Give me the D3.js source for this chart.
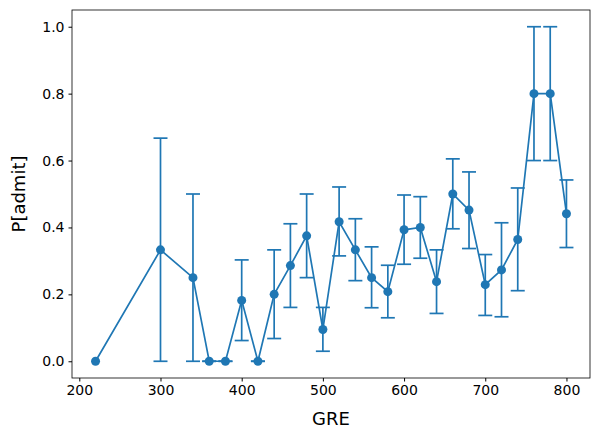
<!DOCTYPE html>
<html>
<head>
<meta charset="utf-8">
<script src="https://cdn.jsdelivr.net/npm/d3@7"></script>
<style>
  body { margin: 0; background: #fff; }
  text { font-family: "DejaVu Sans", sans-serif; }
</style>
</head>
<body>
<svg id="chart" width="601" height="440"></svg>
<script>
let gre = [220, 300, 340, 360, 380, 400, 420, 440, 460, 480, 500, 520, 540, 560, 580, 600, 620, 640, 660, 680, 700, 720, 740, 760, 780, 800]
let admit = [0, 0.333, 0.25, 0, 0, 0.182, 0, 0.2, 0.286, 0.375, 0.095, 0.417, 0.333, 0.25, 0.208, 0.393, 0.4, 0.238, 0.5, 0.452, 0.229, 0.273, 0.364, 0.8, 0.8, 0.441]
let upper = [0, 0.667, 0.5, 0, 0, 0.303, 0, 0.333, 0.411, 0.5, 0.161, 0.521, 0.426, 0.342, 0.287, 0.497, 0.492, 0.333, 0.605, 0.566, 0.319, 0.414, 0.518, 1.0, 1.0, 0.542]
let lower = [0, 0, 0, 0, 0, 0.062, 0, 0.068, 0.161, 0.25, 0.03, 0.315, 0.241, 0.16, 0.13, 0.29, 0.308, 0.143, 0.396, 0.337, 0.137, 0.133, 0.211, 0.6, 0.6, 0.34]
let yTicks = [0, 0.2, 0.4, 0.6, 0.8, 1.0]
let xTicks = [200, 300, 400, 500, 600, 700, 800]

let color = '#1f77b4'
let svg = d3.select('#chart')
let margin = { left: 72, right: 11, top: 10, bottom: 62 }
let w = 601 - margin.left - margin.right
let h = 440 - margin.top - margin.bottom

let x = d3.scaleLinear().domain([191, 829]).range([0, w])
let y = d3.scaleLinear().domain([-0.05, 1.05]).range([h, 0])

let g = svg.append('g').attr('transform', `translate(${margin.left},${margin.top})`)

let xAxis = g.append('g').attr('transform', `translate(0,${h})`)
  .call(d3.axisBottom(x).tickValues(xTicks).tickSize(3.5).tickPadding(4))
let yAxis = g.append('g')
  .call(d3.axisLeft(y).tickValues(yTicks).tickFormat(d3.format('.1f')).tickSize(3.5).tickPadding(4))
for (let ax of [xAxis, yAxis]) {
  ax.select('.domain').remove()
  ax.selectAll('text').attr('font-size', 14).attr('fill', '#000')
  ax.selectAll('line').attr('stroke', '#000')
}

g.append('rect').attr('width', w).attr('height', h)
  .attr('fill', 'none').attr('stroke', '#000').attr('stroke-width', 0.8)

let data = gre.map((d, i) => ({ x: d, y: admit[i], lo: lower[i], hi: upper[i] }))
let bars = data.filter(d => d.x !== 220)

g.selectAll('.err').data(bars).join('line')
  .attr('x1', d => x(d.x)).attr('x2', d => x(d.x))
  .attr('y1', d => y(d.lo)).attr('y2', d => y(d.hi))
  .attr('stroke', color).attr('stroke-width', 1.7)
for (let key of ['lo', 'hi']) {
  g.selectAll('.cap-' + key).data(bars).join('line')
    .attr('x1', d => x(d.x) - 7).attr('x2', d => x(d.x) + 7)
    .attr('y1', d => y(d[key])).attr('y2', d => y(d[key]))
    .attr('stroke', color).attr('stroke-width', 1.7)
}

g.append('path').datum(data)
  .attr('d', d3.line().x(d => x(d.x)).y(d => y(d.y)))
  .attr('fill', 'none').attr('stroke', color).attr('stroke-width', 1.7)

g.selectAll('circle').data(data).join('circle')
  .attr('cx', d => x(d.x)).attr('cy', d => y(d.y)).attr('r', 4.5).attr('fill', color)

svg.append('text').attr('x', margin.left + w / 2).attr('y', 425)
  .attr('text-anchor', 'middle').attr('font-size', 18).text('GRE')
svg.append('text').attr('transform', `translate(25,${margin.top + h / 2}) rotate(-90)`)
  .attr('text-anchor', 'middle').attr('font-size', 18).text('P[admit]')
</script>
</body>
</html>
